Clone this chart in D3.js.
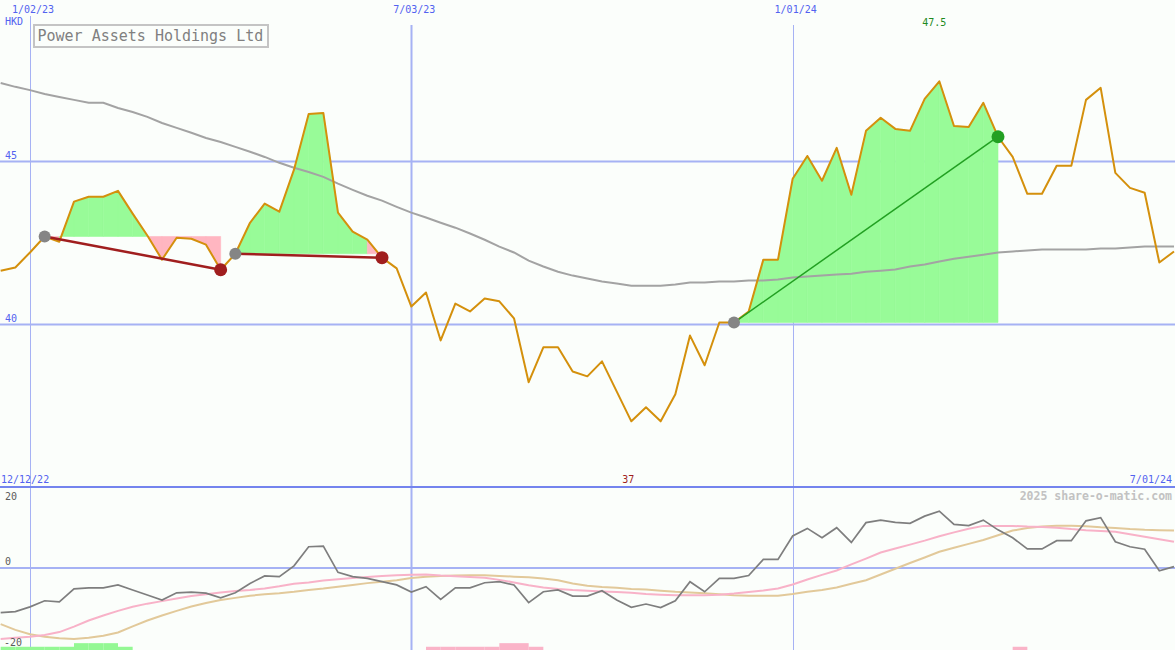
<!DOCTYPE html>
<html><head><meta charset="utf-8">
<script src="https://cdn.jsdelivr.net/npm/d3@7"></script>
<style>html,body{margin:0;padding:0;background:#fbfefb;overflow:hidden}svg{display:block}</style>
</head><body>
<svg id="c" width="1175" height="650"></svg>
<script>
// ---------- data ----------
const startWeek = "2022-12-19";               // first weekly sample
const price = [41.65,41.75,42.21,42.70,42.54,43.77,43.92,43.92,44.10,43.40,42.73,41.99,42.66,42.63,42.45,41.68,42.17,43.12,43.71,43.46,44.75,46.46,46.49,43.43,42.85,42.60,42.05,41.72,40.55,40.98,39.51,40.64,40.40,40.80,40.71,40.19,38.23,39.30,39.30,38.56,38.41,38.87,37.95,37.03,37.46,37.03,37.86,39.66,38.75,40.06,40.06,40.40,41.99,41.99,44.47,45.17,44.41,45.42,43.98,45.94,46.34,46.00,45.94,46.92,47.46,46.09,46.06,46.80,45.76,45.14,44.01,44.01,44.87,44.87,46.89,47.26,44.65,44.19,44.04,41.90,42.24];
const movingAvg = [47.41,47.29,47.19,47.07,46.98,46.89,46.80,46.80,46.64,46.52,46.37,46.18,46.03,45.88,45.72,45.60,45.45,45.30,45.14,44.96,44.81,44.68,44.53,44.32,44.13,43.95,43.80,43.61,43.43,43.28,43.12,42.97,42.79,42.60,42.39,42.21,41.96,41.78,41.62,41.50,41.41,41.32,41.26,41.19,41.19,41.19,41.23,41.29,41.29,41.32,41.32,41.35,41.35,41.38,41.44,41.47,41.50,41.53,41.56,41.62,41.65,41.69,41.78,41.84,41.93,42.02,42.08,42.14,42.21,42.24,42.27,42.30,42.30,42.30,42.30,42.33,42.33,42.36,42.39,42.39,42.39];
const momentum = [-12.4,-12.1,-10.8,-9.1,-9.4,-5.8,-5.5,-5.5,-4.7,-6.1,-7.5,-8.9,-6.9,-6.7,-7.0,-8.3,-6.9,-4.3,-2.2,-2.4,0.6,5.9,6.1,-1.2,-2.4,-2.9,-3.8,-4.7,-6.7,-5.2,-8.7,-5.5,-5.5,-4.1,-3.8,-4.7,-9.6,-6.6,-6.1,-7.8,-7.8,-6.3,-8.9,-10.9,-10.0,-11.0,-9.1,-3.8,-6.6,-2.9,-2.9,-2.1,2.4,2.4,8.9,11.0,8.4,11.2,7.1,12.6,13.3,12.7,12.4,14.4,15.8,12.1,11.8,13.3,10.6,8.4,5.3,5.3,7.6,7.6,13.1,14.0,7.3,5.9,5.2,-0.75,0.4];
const signalFast = [-19.7,-19.4,-19.1,-18.6,-17.8,-16.3,-14.6,-13.2,-11.9,-10.75,-9.9,-9.2,-8.5,-7.8,-7.3,-6.8,-6.4,-6.1,-5.7,-5.1,-4.4,-4.0,-3.5,-3.1,-2.8,-2.5,-2.2,-2.0,-1.9,-1.8,-2.1,-2.3,-2.5,-2.7,-3.3,-4.0,-4.8,-5.4,-5.8,-6.1,-6.3,-6.5,-6.7,-6.9,-7.2,-7.4,-7.6,-7.6,-7.6,-7.4,-7.1,-6.7,-6.25,-5.7,-4.6,-3.2,-1.9,-0.7,1.0,2.6,4.3,5.4,6.5,7.6,8.8,9.9,10.9,11.7,11.7,11.7,11.5,11.4,11.2,10.8,10.5,10.3,10.1,9.4,8.7,8.0,7.3];
const signalSlow = [-15.6,-17.2,-18.4,-19.1,-19.5,-19.7,-19.4,-18.8,-17.9,-16.2,-14.6,-13.2,-11.9,-10.7,-9.7,-8.9,-8.3,-7.7,-7.3,-7.0,-6.6,-6.1,-5.7,-5.2,-4.7,-4.2,-3.8,-3.4,-2.8,-2.4,-2.2,-2.1,-2.0,-2.0,-2.2,-2.4,-2.6,-2.9,-3.4,-4.3,-4.9,-5.3,-5.5,-5.8,-6.0,-6.3,-6.6,-6.8,-7.0,-7.3,-7.6,-7.7,-7.7,-7.7,-7.2,-6.6,-6.1,-5.4,-4.4,-3.4,-1.8,-0.2,1.4,2.9,4.5,5.6,6.7,7.8,9.1,10.4,11.1,11.5,11.75,11.75,11.6,11.3,11.1,10.8,10.6,10.5,10.4];
// histogram strip at foot of indicator panel (signed height, indicator units)
const histBars = [0.9,0.9,0.9,0.9,0.9,1.9,1.9,1.9,0.9,0,0,0,0,0,0,0,0,0,0,0,0,0,0,0,0,0,0,0,0,-0.9,-0.9,-0.9,-0.9,-0.9,-1.9,-1.9,-0.9,0,0,0,0,0,0,0,0,0,0,0,0,0,0,0,0,0,0,0,0,0,0,0,0,0,0,0,0,0,0,0,0,-0.9,0,0,0,0,0,0,0,0,0,0,0];
const buyDates  = ["2023-01-09","2023-04-10","2023-12-04"];
const sellDates = ["2023-04-03","2023-06-19","2024-04-08"];
const xTickDates = ["2023-01-02","2023-07-03","2024-01-01"];
const priceTicks = [40,45];
const indTicks = [20,0,-20];
const panelDates = ["2022-12-12","2024-07-01"];
const title = "Power Assets Holdings Ltd";
const currency = "HKD";
const watermark = "2025 share-o-matic.com";

// ---------- setup ----------
const W = 1175, H = 650;
const parse = d3.utcParse("%Y-%m-%d");
const fmtDate = d3.utcFormat("%-m/%d/%y");
const fmtVal = d3.format(".3~r");
const dates = price.map((_, i) => d3.utcWeek.offset(parse(startWeek), i));
const x = d3.scaleUtc().domain([parse("2023-01-02"), parse("2024-07-01")]).range([30, 1174]);
const yP = d3.scaleLinear().domain([40, 45]).range([324.5, 161.5]);
const yI = d3.scaleLinear().domain([-20, 20]).range([640, 496]);
const FONT = "'DejaVu Sans Mono', monospace";
const GRID = "#a6b2f4", BLUE = "#5262f0";

const svg = d3.select("#c");
svg.append("rect").attr("width", W).attr("height", H).attr("fill", "#fbfefb");

// grid
const g = svg.append("g");
g.selectAll(".hp").data(priceTicks).join("line")
  .attr("x1", 0).attr("x2", W).attr("y1", d => yP(d)).attr("y2", d => yP(d))
  .attr("stroke", GRID).attr("stroke-width", 2);
g.append("line").attr("x1", 0).attr("x2", W).attr("y1", yI(0)).attr("y2", yI(0))
  .attr("stroke", GRID).attr("stroke-width", 2);
g.selectAll(".vx").data(xTickDates).join("line")
  .attr("x1", d => Math.round(x(parse(d))) + 0.5).attr("x2", d => Math.round(x(parse(d))) + 0.5)
  .attr("y1", (d, i) => i === 0 ? 16 : 25).attr("y2", H)
  .attr("stroke", GRID).attr("stroke-width", (d, i) => i === 1 ? 2 : 1);
g.append("line").attr("x1", 0).attr("x2", W).attr("y1", 487).attr("y2", 487)
  .attr("stroke", "#7484ee").attr("stroke-width", 2);

// trade fills
const idxOf = s => dates.findIndex(d => +d === +parse(s));
const trades = buyDates.map((b, i) => ({ b: idxOf(b), s: idxOf(sellDates[i]) }));
const fills = svg.append("g");
trades.forEach(t => {
  const base = price[t.b];
  for (let i = t.b; i < t.s; i++) {
    const up = price[i + 1] >= base;
    const pts = [[x(dates[i]), yP(base)], [x(dates[i]), yP(price[i])],
                 [x(dates[i + 1]), yP(price[i + 1])], [x(dates[i + 1]), yP(base)]];
    fills.append("path").attr("d", "M" + pts.join("L") + "Z")
      .attr("fill", up ? "#98fb98" : "#ffb6c1").attr("stroke", up ? "#98fb98" : "#ffb6c1").attr("stroke-width", 0.6);
  }
});

// moving average & price
const lineP = d3.line().x((d, i) => x(dates[i])).y(d => yP(d));
svg.append("path").attr("d", lineP(movingAvg)).attr("fill", "none").attr("stroke", "#a3a3a3").attr("stroke-width", 2);
svg.append("path").attr("d", lineP(price)).attr("fill", "none").attr("stroke", "#d4900c").attr("stroke-width", 2).attr("stroke-linejoin", "round");

// trade lines & dots
trades.forEach(t => {
  const win = price[t.s] >= price[t.b];
  const col = win ? "#22a022" : "#a01e1e";
  svg.append("line").attr("x1", x(dates[t.b])).attr("y1", yP(price[t.b]))
    .attr("x2", x(dates[t.s])).attr("y2", yP(price[t.s]))
    .attr("stroke", col).attr("stroke-width", win ? 1.5 : 2.5);
  svg.append("circle").attr("cx", x(dates[t.b])).attr("cy", yP(price[t.b])).attr("r", 6).attr("fill", "#858585");
  svg.append("circle").attr("cx", x(dates[t.s])).attr("cy", yP(price[t.s])).attr("r", 6.5).attr("fill", col);
});

// indicator panel
const lineI = d3.line().x((d, i) => x(dates[i])).y(d => yI(d));
const barBase = yI.invert(H);
svg.append("g").selectAll("rect").data(histBars.map((v, i) => ({ v, i })).filter(d => d.v !== 0 && d.i + 1 < dates.length)).join("rect")
  .attr("x", d => x(dates[d.i])).attr("width", d => x(dates[d.i + 1]) - x(dates[d.i]))
  .attr("y", d => yI(barBase + Math.abs(d.v))).attr("height", d => H - yI(barBase + Math.abs(d.v)))
  .attr("fill", d => d.v > 0 ? "#94f894" : "#fab4c8");
svg.append("path").attr("d", lineI(signalSlow)).attr("fill", "none").attr("stroke", "#e2c99a").attr("stroke-width", 2);
svg.append("path").attr("d", lineI(signalFast)).attr("fill", "none").attr("stroke", "#f8b2c8").attr("stroke-width", 2);
svg.append("path").attr("d", lineI(momentum)).attr("fill", "none").attr("stroke", "#7e7e7e").attr("stroke-width", 1.7);

// ---------- text ----------
const txt = (t, px, py, o = {}) => svg.append("text").text(t).attr("x", px).attr("y", py)
  .attr("font-family", FONT).attr("font-size", o.size || 10).attr("fill", o.fill || BLUE)
  .attr("text-anchor", o.anchor || "start").attr("font-weight", o.weight || "normal");

xTickDates.forEach(d => txt(fmtDate(parse(d)), x(parse(d)) + 3, 13, { anchor: "middle" }));
txt(currency, 5, 24.5);
priceTicks.forEach(t => txt(String(t), 5, yP(t) - 2.5));
txt(fmtDate(parse(panelDates[0])), 1, 482.5);
txt(fmtDate(parse(panelDates[1])), 1172, 482.5, { anchor: "end" });
const indPos = { "20": 500, "0": 565, "-20": 645.5 };
indTicks.forEach(t => txt(String(t), t < 0 ? 4 : 5, indPos[String(t)], { fill: "#5a5a5a" }));
txt(watermark, 1172, 499.5, { anchor: "end", fill: "#c2c2c2", size: 11.5, weight: "bold" });

// extremes
const iMax = d3.maxIndex(price), iMin = d3.minIndex(price);
txt(fmtVal(price[iMax]), x(dates[iMax]) - 5, 26, { anchor: "middle", fill: "#1e8a1e" });
txt(fmtVal(price[iMin]), x(dates[iMin]) - 3, 482.5, { anchor: "middle", fill: "#a01e1e" });

// title box
svg.append("rect").attr("x", 34).attr("y", 25).attr("width", 234).attr("height", 22)
  .attr("fill", "#fbfefb").attr("stroke", "#c4c4c4").attr("stroke-width", 2);
txt(title, 37.5, 41, { size: 15, fill: "#808080" });
</script>
</body></html>
